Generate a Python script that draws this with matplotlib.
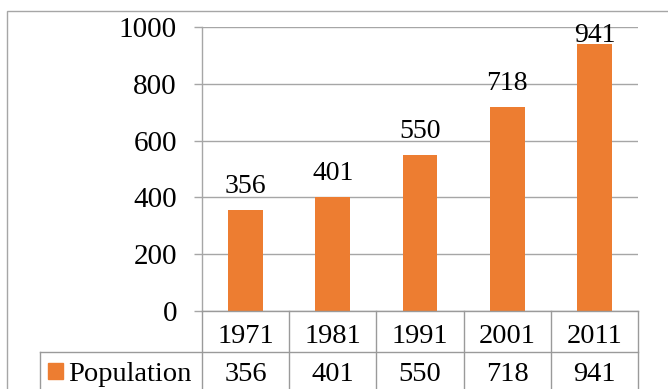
import matplotlib
matplotlib.use("Agg")
import matplotlib.pyplot as plt
from matplotlib.patches import Rectangle
from matplotlib.lines import Line2D
import matplotlib.transforms as mtransforms

years = ["1971", "1981", "1991", "2001", "2011"]
population = [356, 401, 550, 718, 941]
series_name = "Population"
yticks = [0, 200, 400, 600, 800, 1000]

W, H = 668, 389
DPI = 100
plt.rcParams['font.family'] = ['Liberation Serif', 'DejaVu Serif']

fig = plt.figure(figsize=(W / DPI, H / DPI), dpi=DPI)

# pixel helpers (top-left origin)
def fx(px):
    return px / W

def fy(py):
    return 1 - py / H

left, right, top, bottom = 202, 638, 27, 311
ax = fig.add_axes([fx(left), fy(bottom), fx(right - left), (bottom - top) / H])

orange = '#ED7D31'
grid_c = '#A6A6A6'
table_c = '#9A9A9A'
fs_tick = 21
fs_lab = 20
fs_tab = 20.5

x = list(range(len(years)))
bars = ax.bar(x, population, width=0.4, color=orange, zorder=3)
ax.set_xlim(-0.5, len(years) - 0.5)
ax.set_ylim(0, 1000)
ax.set_yticks(yticks)
ax.set_yticklabels([str(v) for v in yticks], fontsize=fs_tick)
ax.set_xticks([])
ax.yaxis.grid(True, color=grid_c, linewidth=1.0, zorder=0)
for s in ['top', 'right', 'bottom']:
    ax.spines[s].set_visible(False)
ax.spines['left'].set_color(grid_c)
ax.spines['left'].set_linewidth(1.0)
ax.tick_params(axis='y', length=6, width=1.0, color=grid_c, pad=12)

# data labels: placed above bar, kept inside the chart area at the top
px_per_unit = (bottom - top) / 1000.0
for xi, v in zip(x, population):
    bar_top_px = bottom - v * px_per_unit
    off_px = min(17, bar_top_px - 42)
    ax.annotate(str(v), (xi, v), xytext=(0, off_px * 72 / DPI), textcoords='offset points',
                ha='center', va='baseline', fontsize=fs_lab, zorder=4)

# Table below the axes
blend = mtransforms.blended_transform_factory(ax.transData, fig.transFigure)
row1_top, row1_bot, row2_bot = 311, 352, 400
leg_left = 40

def hline(x0, x1, y):
    fig.add_artist(Line2D([fx(x0), fx(x1)], [fy(y), fy(y)], color=table_c, lw=1.0))

def vline(xp, y0, y1):
    fig.add_artist(Line2D([fx(xp), fx(xp)], [fy(y0), fy(y1)], color=table_c, lw=1.0))

hline(left, right, row1_top)
hline(leg_left, right, row1_bot)
n = len(years)
for i in range(n + 1):
    xp = left + (right - left) * i / n
    vline(xp, row1_top, row2_bot)
vline(leg_left, row1_bot, row2_bot)

for xi, yr, v in zip(x, years, population):
    ax.text(xi, fy(343), yr, transform=blend, ha='center', va='baseline', fontsize=fs_tab, clip_on=False)
    ax.text(xi, fy(381), str(v), transform=blend, ha='center', va='baseline', fontsize=fs_tab, clip_on=False)

# legend key
fig.add_artist(Rectangle((fx(48), fy(379)), fx(15), 16 / H, color=orange, transform=fig.transFigure))
fig.text(fx(68), fy(381), series_name, ha='left', va='baseline', fontsize=fs_tab)

# outer chart border
fig.add_artist(Rectangle((fx(7), fy(450)), fx(700), (450 - 11) / H, fill=False,
                         edgecolor='#A6A6A6', lw=1.0, transform=fig.transFigure))

fig.savefig('out.png', dpi=DPI)
